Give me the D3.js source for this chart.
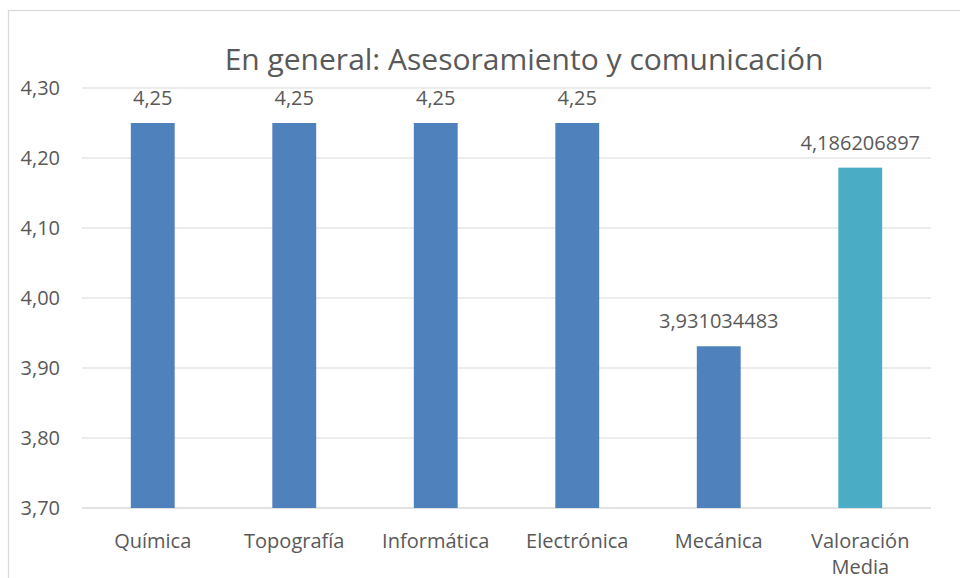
<!DOCTYPE html>
<html>
<head>
<meta charset="utf-8">
<script src="https://cdn.jsdelivr.net/npm/d3@7"></script>
<style>
  body { margin: 0; background: #fff; }
  svg { display: block; font-family: "Open Sans", "Noto Sans", sans-serif; }
</style>
</head>
<body>
<svg width="960" height="578"></svg>
<script>
const categories = ["Química", "Topografía", "Informática", "Electrónica", "Mecánica", "Valoración Media"];
const values = [4.25, 4.25, 4.25, 4.25, 3.931034483, 4.186206897];
const valueLabels = ["4,25", "4,25", "4,25", "4,25", "3,931034483", "4,186206897"];
const yTicks = [3.7, 3.8, 3.9, 4.0, 4.1, 4.2, 4.3];
const barColors = ["#4F81BD", "#4F81BD", "#4F81BD", "#4F81BD", "#4F81BD", "#4BACC6"];

const svg = d3.select("svg");
const textColor = "#595959";

// chart border
svg.append("rect")
    .attr("x", 8.5).attr("y", 10.5)
    .attr("width", 1000).attr("height", 1000)
    .attr("fill", "none")
    .attr("stroke", "#D9D9D9")
    .attr("stroke-width", 1.2);

const plotLeft = 82, plotRight = 931, plotTop = 88, plotBottom = 508;

const x = d3.scaleBand()
    .domain(categories)
    .range([plotLeft, plotRight])
    .paddingInner(0.69)
    .paddingOuter(0.345);

const y = d3.scaleLinear()
    .domain([3.7, 4.3])
    .range([plotBottom, plotTop]);

// gridlines
svg.append("g")
    .selectAll("line")
    .data(yTicks)
    .enter()
    .append("line")
    .attr("x1", plotLeft)
    .attr("x2", plotRight)
    .attr("y1", d => y(d))
    .attr("y2", d => y(d))
    .attr("stroke", "#D9D9D9")
    .attr("stroke-width", d => d === 3.7 ? 1.6 : 1.2);

// y axis labels
const yAxis = d3.axisLeft(y)
    .tickValues(yTicks)
    .tickSize(0)
    .tickPadding(22)
    .tickFormat(d => d3.format(".2f")(d).replace(".", ","));

svg.append("g")
    .attr("transform", `translate(${plotLeft},0)`)
    .call(yAxis)
    .call(g => g.select(".domain").remove())
    .selectAll("text")
    .attr("fill", textColor)
    .style("font-size", "20px")
    .style("font-family", "'Open Sans', sans-serif");

// bars
svg.append("g")
    .selectAll("rect")
    .data(categories)
    .enter()
    .append("rect")
    .attr("x", d => x(d))
    .attr("width", x.bandwidth())
    .attr("y", (d, i) => y(values[i]))
    .attr("height", (d, i) => y(3.7) - y(values[i]))
    .attr("fill", (d, i) => barColors[i]);

// value labels
svg.append("g")
    .selectAll("text")
    .data(categories)
    .enter()
    .append("text")
    .attr("x", d => x(d) + x.bandwidth() / 2)
    .attr("y", (d, i) => y(values[i]) - 18)
    .attr("text-anchor", "middle")
    .attr("fill", textColor)
    .style("font-size", "20px")
    .text((d, i) => valueLabels[i]);

// category labels (wrapped)
const catG = svg.append("g")
    .selectAll("text")
    .data(categories)
    .enter()
    .append("text")
    .attr("x", d => x(d) + x.bandwidth() / 2)
    .attr("y", 548)
    .attr("text-anchor", "middle")
    .attr("fill", textColor)
    .style("font-size", "20px");

catG.each(function(d) {
    const words = d === "Valoración Media" ? ["Valoración", "Media"] : [d];
    const t = d3.select(this);
    words.forEach((w, i) => {
        t.append("tspan")
            .attr("x", x(d) + x.bandwidth() / 2)
            .attr("dy", i === 0 ? 0 : 26)
            .text(w);
    });
});

// title
svg.append("text")
    .attr("x", 524)
    .attr("y", 70)
    .attr("text-anchor", "middle")
    .attr("fill", textColor)
    .style("font-size", "30px")
    .text("En general: Asesoramiento y comunicación");
</script>
</body>
</html>
